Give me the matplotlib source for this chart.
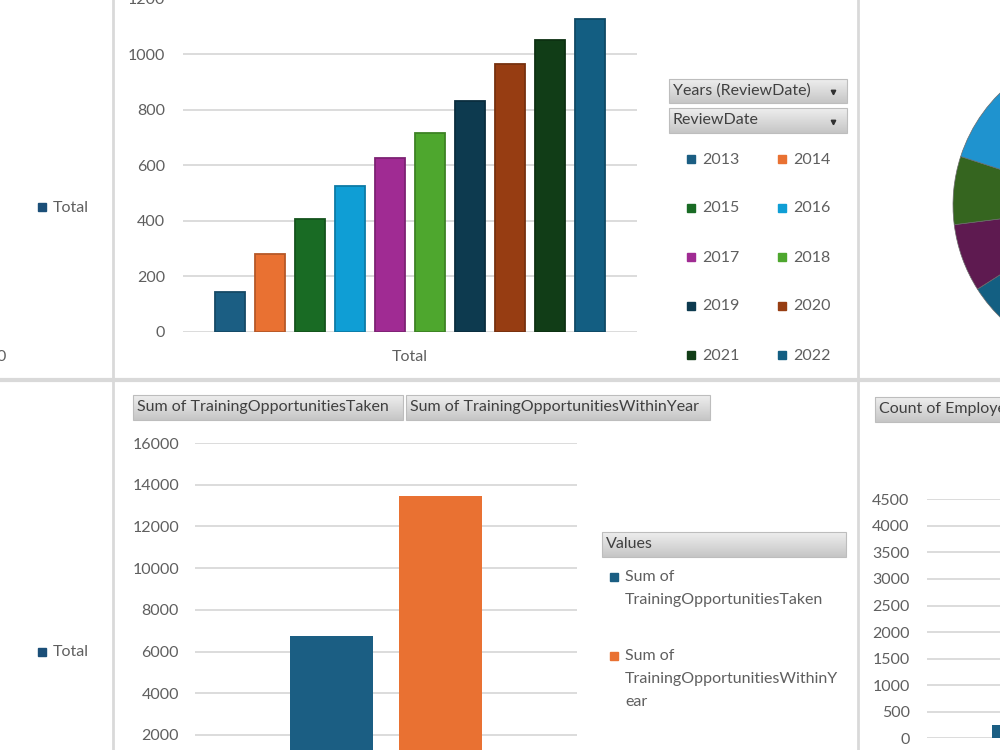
import numpy as np
import matplotlib
matplotlib.use("Agg")
import matplotlib.pyplot as plt
from matplotlib.colors import LinearSegmentedColormap, to_rgb
from matplotlib.patches import Rectangle

plt.rcParams['font.family'] = ['Lato', 'DejaVu Sans']

#%%
# reviews per year (top chart)
years = ['2013', '2014', '2015', '2016', '2017', '2018', '2019', '2020', '2021', '2022']
reviews = [142, 279, 407, 526, 625, 717, 832, 965, 1052, 1126]
year_colors = ['#1b5e83', '#e97132', '#196b24', '#0f9ed5', '#a02b93',
               '#4ea72e', '#0d3a4f', '#973d12', '#113d17', '#135e82']

# training opportunities (bottom chart)
training_labels = ['Sum of TrainingOpportunitiesTaken', 'Sum of TrainingOpportunitiesWithinYear']
training_values = [6760, 13480]
training_colors = ['#1b5e83', '#e97132']

# pie on the right, mostly outside the picture
pie_values = [27, 22, 17, 7, 7, 20]
pie_colors = ['#e97132', '#4ea72e', '#135f82', '#5e1a50', '#35651f', '#1f93cf']

# count of employees, only the first bar shows
emp_values = [250, 4100]

grey = '#5f5f5f'
grid_c = '#d9d9d9'
fs = 11.5

fig = plt.figure(figsize=(10, 7.5), dpi=100)
fig.patch.set_facecolor('white')


def px_axes(x0, y0, x1, y1, **kw):
    # axes placed with pixel coords, y measured from the top
    return fig.add_axes([x0 / 1000, 1 - y1 / 750, (x1 - x0) / 1000, (y1 - y0) / 750], **kw)


def darker(c, f=0.78):
    return tuple(v * f for v in to_rgb(c))


def style(ax, pad):
    for s in ax.spines.values():
        s.set_visible(False)
    ax.grid(True, axis='y', color=grid_c, lw=1.3)
    ax.set_axisbelow(True)
    ax.tick_params(length=0, colors=grey, labelsize=fs)
    ax.tick_params(axis='y', pad=pad)


#%%
# top: reviews by year
ax1 = px_axes(183, -1.2, 637, 331.7)
x = np.arange(len(years))
ax1.bar(x, reviews, width=0.75, color=year_colors,
        edgecolor=[darker(c) for c in year_colors], linewidth=1.3)
ax1.set_ylim(0, 1200)
ax1.set_yticks(range(0, 1201, 200))
ax1.set_xlim(-1.175, 10.175)
ax1.set_xticks([4.5], ['Total'])
style(ax1, 13)
ax1.tick_params(axis='x', pad=13)

#%%
# bottom: training opportunities
ax2 = px_axes(195, 443, 577, 776.6)
ax2.bar([-0.2865, 0.2865], training_values, width=0.435, color=training_colors)
ax2.set_ylim(0, 16000)
ax2.set_yticks(range(0, 16001, 2000))
ax2.set_xlim(-1, 1)
ax2.set_xticks([])
style(ax2, 11.5)

#%%
# bottom right: count of employees
ax3 = px_axes(927, 499.3, 1327, 738.3)
ax3.bar(range(len(emp_values)), emp_values, width=0.35, color='#1b5e83')
ax3.set_ylim(0, 4500)
ax3.set_yticks(range(0, 4501, 500))
ax3.set_xlim(-0.5, 1.5)
ax3.set_xticks([])
style(ax3, 12.5)

#%%
# pie, cut by the right edge
ax4 = px_axes(953, 48, 1267, 362)
ax4.pie(pie_values, colors=pie_colors, startangle=90, counterclock=False, radius=1,
        wedgeprops=dict(linewidth=0.5, edgecolor='#6a6a6a'))
ax4.set_xlim(-1, 1)
ax4.set_ylim(-1, 1)

#%%
# overlay in pixel coords for frames, buttons and legends
ov = fig.add_axes([0, 0, 1, 1], zorder=5)
ov.axis('off')

for xv in (113, 858):
    ov.plot([xv, xv], [0, 750], color=grid_c, lw=2)
ov.plot([0, 1000], [380, 380], color=grid_c, lw=3)

btn_cmap = LinearSegmentedColormap.from_list('btn', ['#eeeeee', '#c6c6c6'])
grad = np.linspace(0, 1, 50).reshape(-1, 1)


def button(x0, y0, x1, y1, label, arrow=False):
    ov.imshow(grad, extent=(x0, x1, y1, y0), cmap=btn_cmap, aspect='auto', zorder=2)
    ov.add_patch(Rectangle((x0, y0), x1 - x0, y1 - y0, fill=False, ec='#bdbdbd', lw=0.8, zorder=3))
    ov.text(x0 + 4, (y0 + y1) / 2, label, va='center', ha='left', fontsize=fs,
            color='#404040', zorder=4)
    if arrow:
        ov.plot(x1 - 14, (y0 + y1) / 2 + 1, marker='v', ms=3.2, color='#303030', zorder=4)


button(669, 79, 847, 103, 'Years (ReviewDate)', arrow=True)
button(669, 108, 847, 133, 'ReviewDate', arrow=True)
button(133, 395, 403, 420, training_labels[0])
button(406, 395, 710, 420, training_labels[1])
button(602, 532, 846, 557, 'Values')
button(875, 397, 1010, 422, 'Count of EmployeeID')


def key(xk, yk, color, label):
    ov.add_patch(Rectangle((xk, yk - 4), 8, 8, color=color, zorder=3))
    ov.text(xk + 15, yk + 0.5, label, va='center', ha='left', fontsize=fs, color=grey)


# year legend, two columns
for i, (yr, c) in enumerate(zip(years, year_colors)):
    key(687 + (i % 2) * 91, 159 + (i // 2) * 49, c, yr)

# left panels
key(38, 207, '#1b4f78', 'Total')
key(38, 652, '#1b4f78', 'Total')
ov.text(6, 357, '0', ha='right', va='center', fontsize=fs, color=grey)

# training legend, wrapped like excel does
yk = 577
for lab, c in zip(training_labels, training_colors):
    rest = lab[len('Sum of '):]
    lines = ['Sum of'] + [rest[i:i + 28] for i in range(0, len(rest), 28)]
    ov.add_patch(Rectangle((610, yk - 4), 8, 8, color=c, zorder=3))
    for j, ln in enumerate(lines):
        ov.text(625, yk + j * 23, ln, va='center', ha='left', fontsize=fs, color=grey)
    yk += 79

ov.set_xlim(0, 1000)
ov.set_ylim(750, 0)

plt.savefig('out.png', dpi=100)
